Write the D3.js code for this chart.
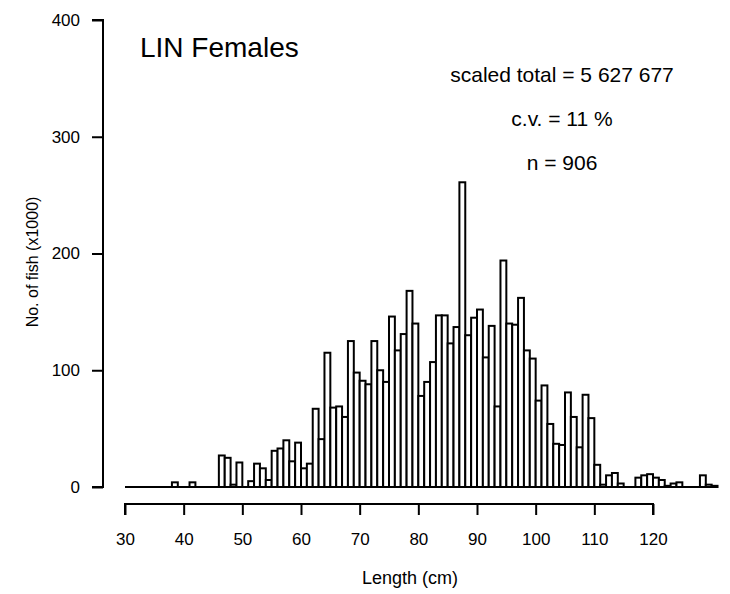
<!DOCTYPE html>
<html>
<head>
<meta charset="utf-8">
<script src="https://cdn.jsdelivr.net/npm/d3@7"></script>
<style>
  body { margin: 0; background: #fff; }
  text { font-family: "Liberation Sans", Arial, sans-serif; fill: #000; }
</style>
</head>
<body>
<div class="chart"></div>
<script>

// length classes (cm) and scaled numbers of fish (x1000)
const lengths = d3.range(30, 131);
const counts = [
  0, 0, 0, 0, 0, 0, 0, 0, 4, 0,          // 30-39
  0, 4, 0, 0, 0, 0, 27, 25, 2, 21,       // 40-49
  0, 5, 20, 16, 6, 31, 33, 40, 22, 38,   // 50-59
  16, 20, 67, 41, 115, 68, 69, 60, 125, 98,       // 60-69
  91, 88, 125, 100, 90, 146, 117, 131, 168, 140,  // 70-79
  78, 90, 107, 147, 147, 123, 137, 261, 130, 145, // 80-89
  152, 111, 138, 69, 194, 140, 139, 162, 117, 110, // 90-99
  74, 87, 54, 37, 36, 81, 60, 34, 79, 59,  // 100-109
  19, 2, 10, 12, 3, 0, 0, 8, 10, 11,       // 110-119
  8, 6, 1, 3, 4, 0, 0, 0, 10, 2,           // 120-129
  1                                        // 130
];
const xTicks = [30, 40, 50, 60, 70, 80, 90, 100, 110, 120];
const yTicks = [0, 100, 200, 300, 400];
const notes = ["scaled total = 5 627 677", "c.v. = 11 %", "n = 906"];

const W = 730, H = 594;

const svg = d3.select(".chart").append("svg")
    .attr("width", W)
    .attr("height", H);

const x = d3.scaleLinear().domain([30, 120]).range([125, 653]);
const y = d3.scaleLinear().domain([0, 400]).range([487, 20]);

var data = lengths.map((l, i) => ({len: l, n: counts[i]}));

// bars: open rectangles, one per cm
svg.append("g").selectAll("rect")
    .data(data.filter(d => d.n > 0))
    .enter().append("rect")
    .attr("x", d => x(d.len))
    .attr("y", d => y(d.n))
    .attr("width", d => x(d.len + 1) - x(d.len))
    .attr("height", d => y(0) - y(d.n))
    .attr("fill", "white")
    .attr("stroke", "black")
    .attr("stroke-width", 2);

// zero line under the bars
svg.append("line")
    .attr("x1", x(30)).attr("x2", x(131))
    .attr("y1", y(0)).attr("y2", y(0))
    .attr("stroke", "black")
    .attr("stroke-width", 2);

// y axis
var yaxis = svg.append("g")
    .attr("transform", "translate(103,0)")
    .call(d3.axisLeft(y).tickValues(yTicks).tickSize(11).tickPadding(12));

// x axis sits below the bars
var xaxis = svg.append("g")
    .attr("transform", "translate(0,504)")
    .call(d3.axisBottom(x).tickValues(xTicks).tickSize(11).tickPadding(18));

svg.selectAll(".domain, .tick line")
    .attr("stroke", "black")
    .attr("stroke-width", 2);
svg.selectAll(".tick text")
    .attr("font-size", "17px")
    .attr("font-family", "Liberation Sans, Arial, sans-serif");

// the axes have no outer ticks pointing past the ends
yaxis.select(".domain").attr("d", "M-11," + y(400) + "H0V" + y(0) + "H-11");
xaxis.select(".domain").attr("d", "M" + x(30) + ",11V0H" + x(120) + "V11");

svg.append("text")
    .attr("transform", "translate(38,262) rotate(-90)")
    .attr("text-anchor", "middle")
    .attr("font-size", "16px")
    .text("No. of fish (x1000)");

svg.append("text")
    .attr("x", 410)
    .attr("y", 584)
    .attr("text-anchor", "middle")
    .attr("font-size", "18px")
    .text("Length (cm)");

svg.append("text")
    .attr("x", 140)
    .attr("y", 57)
    .attr("font-size", "28px")
    .text("LIN Females");

svg.selectAll(".note")
    .data(notes)
    .enter().append("text")
    .attr("class", "note")
    .attr("x", 562)
    .attr("y", (d, i) => 82 + i * 44)
    .attr("text-anchor", "middle")
    .attr("font-size", "21px")
    .text(d => d);

</script>
</body>
</html>
